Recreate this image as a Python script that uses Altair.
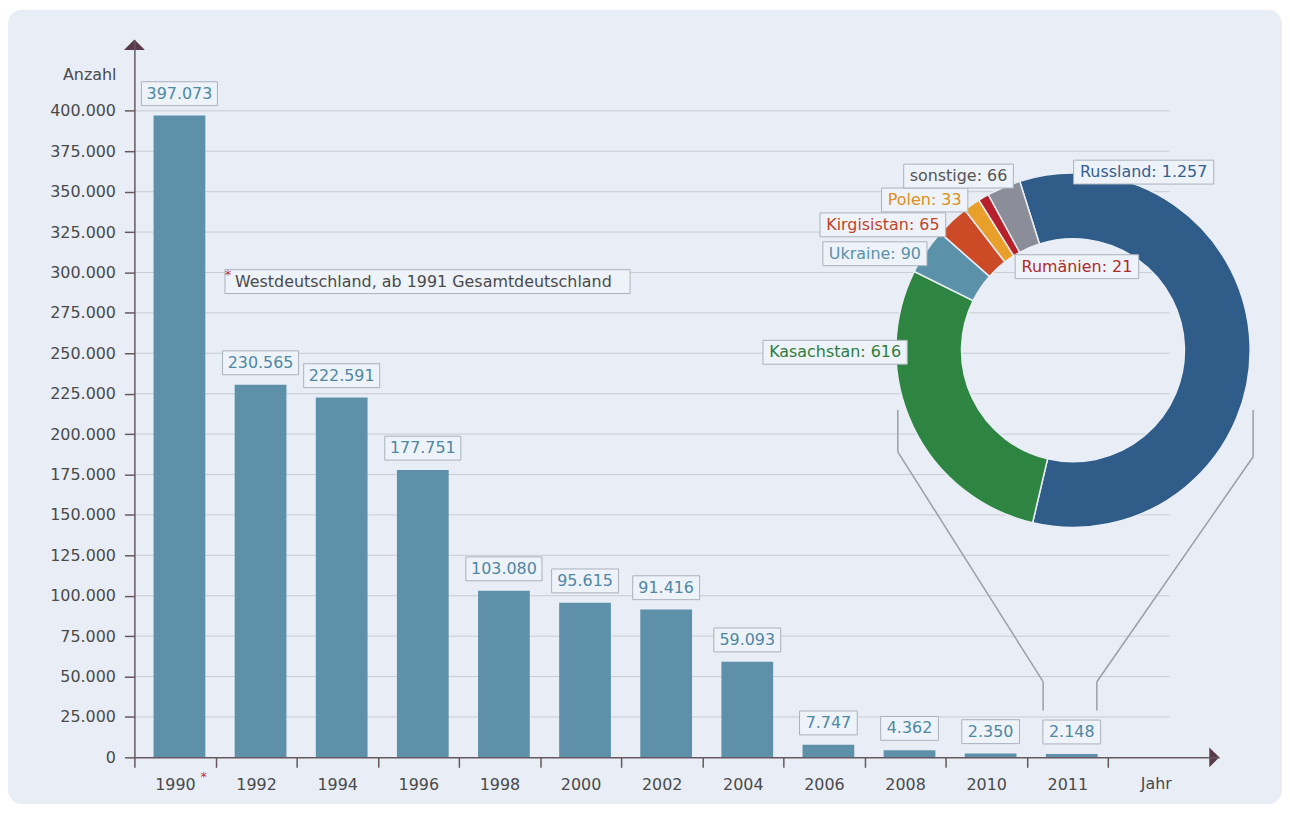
import math
import altair as alt
import pandas as pd

# ---------------- data ----------------
years = ["1990", "1992", "1994", "1996", "1998", "2000", "2002", "2004",
         "2006", "2008", "2010", "2011"]
counts = [397073, 230565, 222591, 177751, 103080, 95615, 91416, 59093,
          7747, 4362, 2350, 2148]
x_categories = years + ["Jahr"]

countries = ["Russland", "Kasachstan", "Ukraine", "Kirgisistan", "Polen",
             "Rumänien", "sonstige"]
country_counts = [1257, 616, 90, 65, 33, 21, 66]

y_ticks = list(range(0, 400001, 25000))
footnote = "Westdeutschland, ab 1991 Gesamtdeutschland"
y_title = "Anzahl"
x_title = "Jahr"


def de(n):
    return f"{n:,}".replace(",", ".")


# ---------------- style / layout ----------------
FONT = "DejaVu Sans"
PAGE = "#ffffff"
BG = "#e9eef6"
BOX_FILL = "#eef2f9"
BOX_STROKE = "#a9b1bb"
AXIS_COLOR = "#675860"
ARROW_COLOR = "#5a3a4a"
GRID_COLOR = "#c8ccd3"
BAR_COLOR = "#5e91a9"
VALUE_COLOR = "#4f88a3"
TEXT_COLOR = "#4a4a4a"
STAR_COLOR = "#c0303a"
slice_colors = ["#2f5c88", "#2e8542", "#5b91a9", "#cc4b26", "#e8a02a",
                "#b5202a", "#8b8e98"]
label_colors = ["#34608e", "#2e7d3e", "#5b91a9", "#c0452a", "#dc8f22",
                "#b02a2a", "#555555"]

W, H = 1090, 721
PAD = {"left": 127, "top": 30, "right": 63, "bottom": 47}
Y_MAX = 444000
BAR_SHIFT = 4.5

# donut geometry (plot pixels)
DX = 3
DONUT_CX, DONUT_CY = 940 + DX, 312
R_OUT, R_IN = 178, 112
START = math.radians(342.5)

# annotation anchors (plot pixels) for the donut labels
donut_label_pos = {
    "Russland": (1011 + DX, 133),
    "Kasachstan": (701 + DX, 314),
    "Ukraine": (741 + DX, 215),
    "Kirgisistan": (749 + DX, 186),
    "Polen": (791 + DX, 161),
    "Rumänien": (944 + DX, 228),
    "sonstige": (825 + DX, 137),
}

CW = {' ': 0.318, '.': 0.318, ',': 0.318, ':': 0.337, '*': 0.5,
      'a': 0.613, 'b': 0.635, 'c': 0.55, 'd': 0.635, 'e': 0.615, 'f': 0.352,
      'g': 0.635, 'h': 0.634, 'i': 0.278, 'j': 0.278, 'k': 0.579, 'l': 0.278,
      'm': 0.974, 'n': 0.634, 'o': 0.612, 'p': 0.635, 'r': 0.411, 's': 0.521,
      't': 0.392, 'u': 0.634, 'v': 0.592, 'w': 0.818, 'ä': 0.613,
      'R': 0.695, 'P': 0.603, 'K': 0.656, 'U': 0.732, 'W': 0.989, 'G': 0.775}


def text_w(s, size=16):
    return sum(0.636 if c.isdigit() else CW.get(c, 0.6) for c in s) * size


def box_path(w, h):
    k = h / w
    return f"M-1,{-k:.4f}L1,{-k:.4f}L1,{k:.4f}L-1,{k:.4f}Z"


one = pd.DataFrame({"a": [0]})

# ---------------- scales / axes ----------------
x_scale = alt.Scale(domain=x_categories, paddingInner=0, paddingOuter=0.187, align=0)
y_scale = alt.Scale(domain=[0, Y_MAX], nice=False, zero=True)

x_axis = alt.Axis(title=None, values=years, labelAngle=0, tickBand="extent",
                  tickSize=10, labelPadding=9, labelFont=FONT, labelFontSize=16,
                  labelColor=TEXT_COLOR, domainColor=AXIS_COLOR, domainWidth=1.5,
                  tickColor=AXIS_COLOR, tickWidth=1.5, grid=False, zindex=1)
y_axis = alt.Axis(title=None, values=y_ticks,
                  labelExpr="datum.value == 0 ? '0' : format(datum.value/1000, 'd') + '.000'",
                  tickSize=10, labelPadding=9, labelFont=FONT, labelFontSize=16,
                  labelColor=TEXT_COLOR, domainColor=AXIS_COLOR, domainWidth=1.5,
                  tickColor=AXIS_COLOR, tickWidth=1.5, grid=False, zindex=1)

X_ENC = alt.X("year:N", scale=x_scale, axis=x_axis, sort=x_categories)
Y_ENC = alt.Y("count:Q", scale=y_scale, axis=y_axis)

# ---------------- layers ----------------
bars_df = pd.DataFrame({"year": years, "count": counts,
                        "label": [de(c) for c in counts]})
grid_df = pd.DataFrame({"v": y_ticks[1:]})

# invisible layer that carries the shared axes (must be first)
axis_carrier = alt.Chart(bars_df).mark_point(opacity=0).encode(x=X_ENC, y=Y_ENC)

panel = alt.Chart(one).mark_rect(color=BG, cornerRadius=14).encode(
    x=alt.value(-PAD["left"]), x2=alt.value(W + PAD["right"]),
    y=alt.value(-PAD["top"]), y2=alt.value(H + PAD["bottom"]))

grid = alt.Chart(grid_df).mark_rule(color=GRID_COLOR, strokeWidth=1).encode(
    y=alt.Y("v:Q", scale=y_scale, axis=y_axis),
    x=alt.value(0), x2=alt.value(1040))

bars = alt.Chart(bars_df).mark_bar(width=52, xOffset=BAR_SHIFT, color=BAR_COLOR).encode(
    x=X_ENC, y=Y_ENC)

value_boxes = alt.Chart(bars_df).transform_calculate(
    bw="length(datum.label) * 9.2 + 12",
).transform_calculate(
    k="24 / datum.bw",
).transform_calculate(
    shp="'M-1,' + (-datum.k) + 'L1,' + (-datum.k) + 'L1,' + datum.k + 'L-1,' + datum.k + 'Z'",
    sz="datum.bw * datum.bw",
).mark_point(filled=True, fill=BOX_FILL, stroke=BOX_STROKE, strokeWidth=1,
             opacity=1, fillOpacity=1, xOffset=BAR_SHIFT, yOffset=-22).encode(
    x=X_ENC, y=Y_ENC,
    shape=alt.Shape("shp:N", scale=None),
    size=alt.Size("sz:Q", scale=None))

value_text = alt.Chart(bars_df).mark_text(
    dx=BAR_SHIFT, dy=-22, font=FONT, fontSize=16, color=VALUE_COLOR,
    align="center", baseline="middle").encode(
    x=X_ENC, y=Y_ENC, text="label:N")

star_1990 = alt.Chart(pd.DataFrame({"year": [years[0]]})).mark_text(
    text="*", dx=29, font=FONT, fontSize=13, color=STAR_COLOR,
    align="center", baseline="middle").encode(
    x=X_ENC, y=alt.value(H + 20))

jahr_label = alt.Chart(pd.DataFrame({"year": [x_title]})).mark_text(
    font=FONT, fontSize=16, color=TEXT_COLOR, align="center",
    baseline="top", dx=8).encode(
    x=X_ENC, y=alt.value(H + 19), text="year:N")

anzahl = alt.Chart(one).mark_text(
    text=y_title, font=FONT, fontSize=16, color=TEXT_COLOR, align="right",
    baseline="middle").encode(x=alt.value(-18), y=alt.value(35))

donut_df = pd.DataFrame({"country": countries, "n": country_counts,
                         "idx": list(range(len(countries)))})
donut = alt.Chart(donut_df).mark_arc(
    radius=R_OUT, radius2=R_IN, stroke=BG, strokeWidth=1.5).encode(
    theta=alt.Theta("n:Q", stack=True,
                    scale=alt.Scale(range=[START, START + 2 * math.pi])),
    color=alt.Color("country:N", scale=alt.Scale(domain=countries, range=slice_colors),
                    legend=None),
    order=alt.Order("idx:Q"),
    x=alt.value(DONUT_CX), y=alt.value(DONUT_CY))

layers = [axis_carrier, panel, grid, bars, value_boxes, value_text, star_1990,
          jahr_label, anzahl, donut]

# donut labels
for name, n, col in zip(countries, country_counts, label_colors):
    lab = f"{name}: {de(n)}"
    px, py = donut_label_pos[name]
    bw = text_w(lab) + 12
    layers.append(alt.Chart(one).mark_point(
        shape=box_path(bw, 24), size=bw * bw, filled=True, fill=BOX_FILL,
        stroke=BOX_STROKE, strokeWidth=1, opacity=1).encode(
        x=alt.value(px), y=alt.value(py)))
    layers.append(alt.Chart(one).mark_text(
        text=lab, font=FONT, fontSize=16, color=col, align="center",
        baseline="middle").encode(x=alt.value(px), y=alt.value(py)))

# connector lines from donut to the 2011 bar
segments = [
    (764 + DX, 372, 764 + DX, 414), (764 + DX, 414, 913, 645), (913, 645, 913, 674),
    (1121 + DX, 372, 1121 + DX, 419), (1121 + DX, 419, 967, 645), (967, 645, 967, 674),
]
for x1, y1, x2, y2 in segments:
    layers.append(alt.Chart(one).mark_rule(color="#9a9ea6", strokeWidth=1.5).encode(
        x=alt.value(x1), y=alt.value(y1), x2=alt.value(x2), y2=alt.value(y2)))

# footnote
fn_w = 407
layers.append(alt.Chart(one).mark_point(
    shape=box_path(fn_w, 24), size=fn_w * fn_w, filled=True, fill=BOX_FILL,
    stroke=BOX_STROKE, strokeWidth=1, opacity=1).encode(
    x=alt.value(294.5), y=alt.value(243)))
layers.append(alt.Chart(one).mark_text(
    text=footnote, font=FONT, fontSize=16, color=TEXT_COLOR, align="left",
    baseline="middle").encode(x=alt.value(101), y=alt.value(243)))
layers.append(alt.Chart(one).mark_text(
    text="*", font=FONT, fontSize=13, color=STAR_COLOR, align="center",
    baseline="middle").encode(x=alt.value(94), y=alt.value(236)))

# axis arrows
layers.append(alt.Chart(one).mark_point(
    shape="M-1,0.5L0,-0.5L1,0.5Z", size=441, filled=True, color=ARROW_COLOR,
    opacity=1).encode(x=alt.value(0), y=alt.value(5)))
layers.append(alt.Chart(one).mark_point(
    shape="M-0.5,-1L0.5,0L-0.5,1Z", size=400, filled=True, color=ARROW_COLOR,
    opacity=1).encode(x=alt.value(W - 5), y=alt.value(H)))

chart = alt.layer(*layers).properties(
    width=W, height=H,
    padding=PAD,
    autosize=alt.AutoSizeParams(type="none"),
    background=PAGE,
).configure(font=FONT).configure_view(stroke=None)

chart.save("out.html", embed_options={"renderer": "svg", "actions": False})
